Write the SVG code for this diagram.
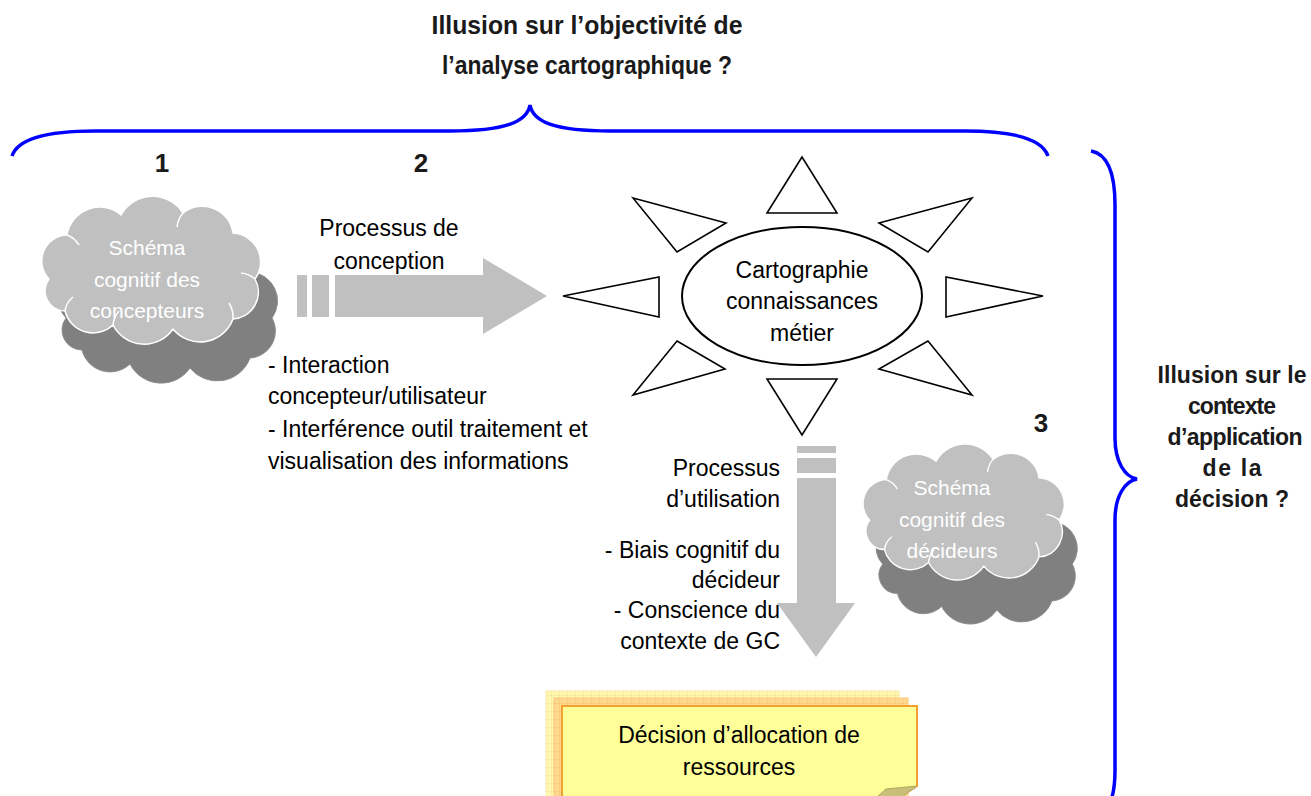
<svg xmlns="http://www.w3.org/2000/svg" width="1311" height="796" viewBox="0 0 1311 796">
  <defs>
    <style>
      .t{font-family:"Liberation Sans",Arial,sans-serif;font-size:23px;fill:#000}
      .b{font-family:"Liberation Sans",Arial,sans-serif;font-weight:bold;fill:#1a1a1a}
      .w{font-family:"Liberation Sans",Arial,sans-serif;font-size:21px;fill:#fff}
      .brace{fill:none;stroke:#0000ff;stroke-width:3.5}
      .ray{fill:#fff;stroke:#000;stroke-width:1.6;stroke-linejoin:miter}
      .arr{fill:#c0c0c0}
      .cf{fill:#c0c0c0;stroke:#fff;stroke-width:1.5}
      .cb{fill:#808080;stroke:#8c8c8c;stroke-width:1}
      .inner{fill:none;stroke:#fff;stroke-width:1.5}
    </style>
    <path id="cloud" d="M16,86 A26,26 0 0 1 34,42 A33,33 0 0 1 88,22 A36,36 0 0 1 150,20 A31,31 0 0 1 200,40 A29,29 0 0 1 222,86 A27,27 0 0 1 200,126 A35,35 0 0 1 140,136 A35,35 0 0 1 80,132 A29,29 0 0 1 32,118 A20,20 0 0 1 16,86 Z"/>
    <g id="cloudInner">
      <path class="inner" d="M32,118 A22,22 0 0 1 40,104"/>
      <path class="inner" d="M80,132 A24,24 0 0 1 86,118"/>
      <path class="inner" d="M200,126 A26,26 0 0 0 196,110"/>
      <path class="inner" d="M222,86 A24,24 0 0 0 208,80"/>
      <path class="inner" d="M150,20 A26,26 0 0 0 144,34"/>
      <path class="inner" d="M34,42 A24,24 0 0 1 46,52"/>
    </g>
    <pattern id="gridY" width="8" height="8" patternUnits="userSpaceOnUse">
      <rect width="8" height="8" fill="#fff6b0"/>
      <path d="M8,0 V8 M0,8 H8" stroke="#f3e090" stroke-width="1" fill="none"/>
    </pattern>
    <pattern id="gridO" width="8" height="8" patternUnits="userSpaceOnUse">
      <rect width="8" height="8" fill="#ffd890"/>
      <path d="M8,0 V8 M0,8 H8" stroke="#f5c070" stroke-width="1" fill="none"/>
    </pattern>
  </defs>
  <rect width="1311" height="796" fill="#fff"/>

  <g id="title-objectivite">
    <text class="b" x="587" y="34" font-size="26" text-anchor="middle" textLength="311" lengthAdjust="spacingAndGlyphs">Illusion sur l’objectivité de</text>
    <text class="b" x="587" y="74" font-size="26" text-anchor="middle" textLength="290" lengthAdjust="spacingAndGlyphs">l’analyse cartographique ?</text>
  </g>

  <g id="braces">
    <path class="brace" d="M12,156 C18,138 50,131 95,131 L450,131 C505,131 527,122 530,105 C533,122 555,131 610,131 L965,131 C1010,131 1042,138 1048,156"/>
    <path class="brace" d="M1091,151 C1108,154 1115,175 1115,205 L1115,438 C1115,462 1125,477 1137,479 C1125,481 1115,496 1115,520 L1115,770 C1115,800 1108,815 1091,818"/>
  </g>

  <g id="numbers">
    <text class="b" x="162" y="172" font-size="26" text-anchor="middle">1</text>
    <text class="b" x="421" y="172" font-size="26" text-anchor="middle">2</text>
    <text class="b" x="1041" y="432" font-size="26" text-anchor="middle">3</text>
  </g>

  <g id="label-contexte">
    <text class="b" x="1232" y="383" font-size="23" text-anchor="middle" textLength="149" lengthAdjust="spacing">Illusion sur le</text>
    <text class="b" x="1232" y="414" font-size="23" text-anchor="middle" textLength="88" lengthAdjust="spacing">contexte</text>
    <text class="b" x="1235" y="445" font-size="23" text-anchor="middle" textLength="135" lengthAdjust="spacing">d’application</text>
    <text class="b" x="1232" y="476" font-size="23" text-anchor="middle" textLength="59" lengthAdjust="spacing">de la</text>
    <text class="b" x="1232" y="507" font-size="23" text-anchor="middle" textLength="114" lengthAdjust="spacing">décision ?</text>
  </g>

  <g id="cloud-concepteurs">
    <use href="#cloud" class="cb" transform="translate(50,232)"/>
    <use href="#cloud" class="cf" transform="translate(33,193)"/>
    <use href="#cloudInner" transform="translate(33,193)"/>
    <text class="w" x="147" y="255" text-anchor="middle">Schéma</text>
    <text class="w" x="147" y="287" text-anchor="middle">cognitif des</text>
    <text class="w" x="147" y="318" text-anchor="middle">concepteurs</text>
  </g>

  <g id="cloud-decideurs">
    <use href="#cloud" class="cb" transform="translate(868,485) scale(0.92)"/>
    <use href="#cloud" class="cf" transform="translate(855,441) scale(0.92)"/>
    <use href="#cloudInner" transform="translate(855,441) scale(0.92)"/>
    <text class="w" x="952" y="495" text-anchor="middle" font-size="20">Schéma</text>
    <text class="w" x="952" y="527" text-anchor="middle" font-size="20">cognitif des</text>
    <text class="w" x="952" y="558" text-anchor="middle" font-size="20">décideurs</text>
  </g>

  <g id="cartographie">
    <polygon class="ray" points="802,157 767,213 837,213"/>
    <polygon class="ray" points="633,198 726,223 677,252"/>
    <polygon class="ray" points="972,198 879,223 928,252"/>
    <polygon class="ray" points="563,296 659,277 659,317"/>
    <polygon class="ray" points="1043,296 946,277 946,317"/>
    <polygon class="ray" points="677,341 725,369 633,395"/>
    <polygon class="ray" points="928,341 879,369 972,395"/>
    <polygon class="ray" points="767,379 837,379 802,435"/>
    <ellipse cx="802" cy="296" rx="120" ry="69" fill="#fff" stroke="#000" stroke-width="2"/>
    <text class="t" x="802" y="278" text-anchor="middle">Cartographie</text>
    <text class="t" x="802" y="309" text-anchor="middle">connaissances</text>
    <text class="t" x="802" y="341" text-anchor="middle">métier</text>
  </g>

  <g id="connectors">
    <g id="arrow-conception">
      <rect class="arr" x="297" y="275" width="10" height="42"/>
      <rect class="arr" x="312" y="275" width="17" height="42"/>
      <polygon class="arr" points="335,275 483,275 483,258 547,296 483,334 483,317 335,317"/>
    </g>
    <g id="arrow-utilisation">
      <rect class="arr" x="797" y="446" width="39" height="7"/>
      <rect class="arr" x="797" y="458" width="39" height="15"/>
      <polygon class="arr" points="797,478 836,478 836,603 855,603 816,657 777,603 797,603"/>
    </g>
  </g>

  <g id="label-conception">
    <text class="t" x="389" y="236" text-anchor="middle">Processus de</text>
    <text class="t" x="389" y="269" text-anchor="middle">conception</text>
  </g>

  <g id="label-interaction">
    <text class="t" x="268" y="373">- Interaction</text>
    <text class="t" x="268" y="404">concepteur/utilisateur</text>
    <text class="t" x="268" y="437">- Interférence outil traitement et</text>
    <text class="t" x="268" y="469">visualisation des informations</text>
  </g>

  <g id="label-utilisation">
    <text class="t" x="780" y="476" text-anchor="end">Processus</text>
    <text class="t" x="780" y="507" text-anchor="end">d’utilisation</text>
    <text class="t" x="780" y="558" text-anchor="end">- Biais cognitif du</text>
    <text class="t" x="780" y="588" text-anchor="end">décideur</text>
    <text class="t" x="780" y="618" text-anchor="end">- Conscience du</text>
    <text class="t" x="780" y="649" text-anchor="end">contexte de GC</text>
  </g>

  <g id="decision">
    <rect x="546" y="691" width="353" height="110" fill="url(#gridY)" stroke="#fbe9a0" stroke-width="1"/>
    <rect x="554" y="698" width="354" height="110" fill="url(#gridO)" stroke="#f8c878" stroke-width="1"/>
    <path d="M562,706 L917,706 L917,786 L900,797 L562,797 Z" fill="#ffff99" stroke="#f4a030" stroke-width="2"/>
    <polygon points="877,797 886,789 917,786 902,797" fill="#c8c078" stroke="#b0a860" stroke-width="1"/>
    <text class="t" x="739" y="743" text-anchor="middle">Décision d’allocation de</text>
    <text class="t" x="739" y="775" text-anchor="middle">ressources</text>
  </g>
</svg>
